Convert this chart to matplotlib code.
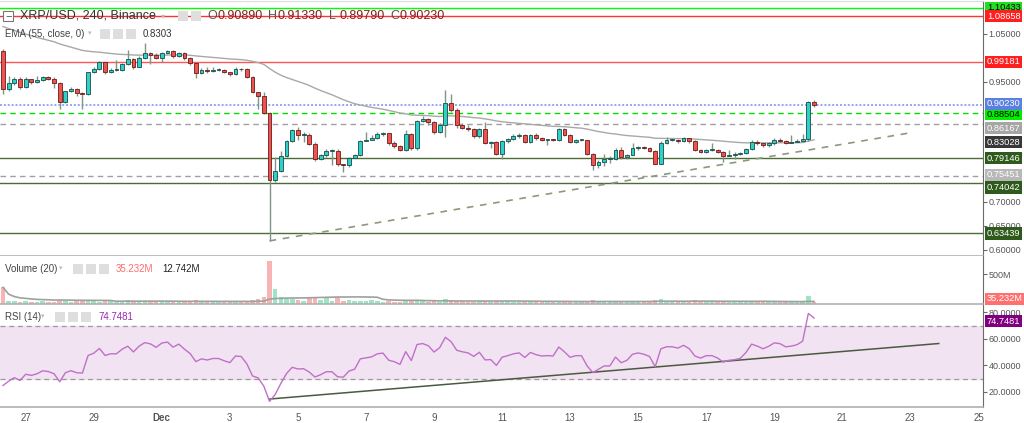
import numpy as np
import pandas as pd
import matplotlib
matplotlib.use("Agg")
import matplotlib.pyplot as plt
from matplotlib.patches import Rectangle
from matplotlib.transforms import blended_transform_factory

plt.rcParams['font.family'] = ['Liberation Sans', 'DejaVu Sans']

# XRP/USD 4h candles, Nov 26 - Dec 20 (open of each candle = previous close)
first_open = 1.015
closes = [0.936, 0.947, 0.956, 0.939, 0.955, 0.949, 0.953, 0.960, 0.957, 0.948,
          0.909, 0.930, 0.935, 0.926, 0.925, 0.970, 0.977, 0.992, 0.970, 0.975,
          0.975, 0.988, 0.997, 0.982, 0.999, 1.010, 1.007, 0.999, 1.011, 1.014,
          1.003, 1.011, 1.000, 0.990, 0.969, 0.975, 0.972, 0.975, 0.975, 0.970,
          0.966, 0.977, 0.976, 0.961, 0.928, 0.921, 0.886, 0.746, 0.764, 0.795,
          0.827, 0.849, 0.839, 0.840, 0.821, 0.790, 0.797, 0.806, 0.806, 0.778,
          0.776, 0.792, 0.797, 0.827, 0.830, 0.833, 0.842, 0.844, 0.822, 0.817,
          0.808, 0.842, 0.812, 0.869, 0.873, 0.866, 0.845, 0.861, 0.906, 0.892,
          0.861, 0.855, 0.851, 0.838, 0.852, 0.823, 0.824, 0.800, 0.826, 0.831,
          0.837, 0.840, 0.825, 0.840, 0.833, 0.829, 0.830, 0.829, 0.852, 0.840,
          0.825, 0.829, 0.829, 0.800, 0.776, 0.783, 0.790, 0.790, 0.809, 0.793,
          0.798, 0.812, 0.815, 0.812, 0.807, 0.780, 0.823, 0.829, 0.829, 0.826,
          0.833, 0.826, 0.809, 0.804, 0.809, 0.809, 0.804, 0.795, 0.798, 0.799,
          0.801, 0.810, 0.825, 0.822, 0.818, 0.822, 0.828, 0.827, 0.823, 0.824,
          0.826, 0.831, 0.9089, 0.9023]
highs = [1.018, 0.962, 0.960, 0.960, 0.960, 0.957, 0.962, 0.962, 0.963, 0.960,
         0.950, 0.932, 0.940, 0.937, 0.928, 0.971, 0.980, 0.994, 0.992, 0.978,
         0.995, 0.990, 1.016, 1.000, 1.003, 1.030, 1.012, 1.010, 1.013, 1.017,
         1.016, 1.013, 1.013, 1.002, 0.991, 0.978, 0.980, 0.980, 0.978, 0.977,
         0.971, 0.980, 0.979, 0.978, 0.962, 0.929, 0.929, 0.888, 0.793, 0.806,
         0.830, 0.852, 0.857, 0.846, 0.844, 0.824, 0.800, 0.810, 0.810, 0.810,
         0.780, 0.794, 0.799, 0.829, 0.845, 0.840, 0.845, 0.846, 0.842, 0.826,
         0.818, 0.850, 0.844, 0.871, 0.878, 0.875, 0.868, 0.864, 0.934, 0.925,
         0.895, 0.865, 0.860, 0.853, 0.855, 0.866, 0.826, 0.826, 0.829, 0.834,
         0.842, 0.843, 0.842, 0.842, 0.843, 0.835, 0.832, 0.832, 0.854, 0.854,
         0.842, 0.832, 0.832, 0.830, 0.801, 0.787, 0.800, 0.796, 0.812, 0.815,
         0.800, 0.822, 0.817, 0.816, 0.814, 0.809, 0.826, 0.836, 0.832, 0.831,
         0.836, 0.834, 0.828, 0.811, 0.811, 0.822, 0.811, 0.806, 0.809, 0.803,
         0.805, 0.812, 0.830, 0.828, 0.823, 0.825, 0.833, 0.834, 0.829, 0.840,
         0.832, 0.842, 0.910, 0.9133]
lows = [0.925, 0.932, 0.944, 0.935, 0.937, 0.946, 0.947, 0.951, 0.954, 0.938,
        0.894, 0.907, 0.928, 0.921, 0.893, 0.923, 0.968, 0.975, 0.966, 0.968,
        0.973, 0.973, 0.986, 0.976, 0.980, 0.997, 0.987, 0.997, 0.992, 1.009,
        1.000, 1.001, 0.996, 0.986, 0.958, 0.967, 0.969, 0.970, 0.972, 0.968,
        0.963, 0.964, 0.973, 0.958, 0.926, 0.894, 0.884, 0.619, 0.742, 0.762,
        0.793, 0.825, 0.830, 0.825, 0.818, 0.786, 0.787, 0.794, 0.776, 0.775,
        0.763, 0.772, 0.792, 0.795, 0.826, 0.830, 0.832, 0.837, 0.818, 0.812,
        0.806, 0.806, 0.808, 0.808, 0.867, 0.860, 0.842, 0.843, 0.835, 0.888,
        0.855, 0.852, 0.848, 0.834, 0.834, 0.820, 0.812, 0.797, 0.790, 0.823,
        0.830, 0.834, 0.822, 0.823, 0.830, 0.826, 0.818, 0.826, 0.827, 0.837,
        0.822, 0.823, 0.826, 0.797, 0.767, 0.771, 0.775, 0.782, 0.788, 0.790,
        0.790, 0.797, 0.808, 0.810, 0.805, 0.778, 0.779, 0.821, 0.826, 0.823,
        0.824, 0.823, 0.806, 0.801, 0.801, 0.806, 0.801, 0.783, 0.795, 0.790,
        0.797, 0.800, 0.808, 0.819, 0.814, 0.815, 0.819, 0.824, 0.820, 0.822,
        0.824, 0.824, 0.826, 0.8979]
# volume in millions
volumes = [280, 50, 45, 40, 55, 40, 35, 45, 40, 35,
           75, 50, 40, 45, 55, 70, 45, 40, 45, 55,
           40, 40, 60, 45, 50, 55, 40, 45, 40, 35,
           45, 40, 40, 45, 60, 40, 35, 35, 30, 35,
           40, 45, 40, 55, 70, 90, 110, 720, 245, 110,
           95, 80, 60, 55, 110, 95, 60, 100, 55, 110,
           55, 60, 55, 50, 45, 60, 45, 40, 45, 40,
           35, 60, 55, 70, 45, 40, 45, 40, 90, 60,
           55, 45, 40, 40, 45, 55, 40, 45, 55, 50,
           40, 35, 40, 35, 35, 30, 30, 35, 55, 40,
           40, 35, 40, 55, 60, 50, 45, 40, 50, 45,
           40, 45, 40, 35, 40, 60, 90, 50, 40, 35,
           40, 40, 70, 45, 40, 35, 35, 45, 55, 40,
           35, 35, 40, 50, 40, 35, 35, 40, 35, 35,
           35, 30, 127, 40]

# right-axis price markers
level_vals = [1.10433, 1.08658, 0.99181, 0.88504, 0.86167, 0.79146, 0.75451, 0.74042, 0.63439]
last_price = 0.90230
ema_last = 0.83028
vol_last = 35.232
rsi_last = 74.7481
ema_seed = 1.07
rsi_seed_gain, rsi_seed_loss = 0.005, 0.009
# axis ticks left visible (the others sit under the markers)
price_ticks = [0.60, 0.65, 0.70, 0.95, 1.05]
rsi_ticks = [20, 40, 60, 80]
# trendlines (candle index, value)
price_trend = [(47, 0.619), (160, 0.844)]
rsi_trend = [(47, 14.7), (165, 56.5)]
day_ticks = ["27", "29", "Dec", "3", "5", "7", "9", "11", "13", "15", "17", "19", "21", "23", "25"]

opens = [first_open] + closes[:-1]
o = np.array(opens); c = np.array(closes); h = np.array(highs); l = np.array(lows)
idx = np.arange(len(c))
up = c >= o

# EMA 55
alpha = 2 / 56
ema = []
prev = ema_seed
for v in c:
    prev = prev + alpha * (v - prev)
    ema.append(prev)

# RSI 14 (Wilder)
g, ls = rsi_seed_gain, rsi_seed_loss
rsi = []
for d in c - o:
    g = (g * 13 + max(d, 0)) / 14
    ls = (ls * 13 + max(-d, 0)) / 14
    rsi.append(100 - 100 / (1 + g / ls))

vol = np.array(volumes) * 1e6
vol_ma = pd.Series(vol).rolling(20, min_periods=1).mean()

W, H = 1024, 423
fig = plt.figure(figsize=(W / 100, H / 100), dpi=100)
fig.patch.set_facecolor('white')

def rect(top, bottom):
    return [0, 1 - bottom / H, 983 / W, (bottom - top) / H]

ax = fig.add_axes(rect(1, 256))
axv = fig.add_axes(rect(256, 304), sharex=ax)
axr = fig.add_axes(rect(305, 407), sharex=ax)

for a in (ax, axv, axr):
    a.set_facecolor('white')
    a.yaxis.tick_right()
    for s in ('left', 'top'):
        a.spines[s].set_visible(False)
    a.spines['bottom'].set_color('#b0b0b0')
    a.spines['bottom'].set_linewidth(1.2)
    a.spines['right'].set_color('#6a6a6a')
    a.tick_params(axis='y', colors='#6a6a6a', labelsize=6.5, length=3, pad=1, labelcolor='#555555')
    a.tick_params(axis='x', length=0)
ax.spines['top'].set_visible(True)
ax.spines['top'].set_color('#dddddd')
ax.set_xlim(-0.53, 172.8)

up_col, dn_col = '#2ed1c9', '#ef5350'
up_edge, dn_edge = '#1d4a43', '#6a1b1b'
wick = '#7d9688'

# price panel
ax.vlines(idx, l, h, color=wick, lw=1, zorder=3)
body_lo = np.minimum(o, c)
body_h = np.maximum(np.abs(c - o), 0.0015)
ax.bar(idx, body_h, bottom=body_lo, width=0.68,
       color=np.where(up, up_col, dn_col), edgecolor=np.where(up, up_edge, dn_edge),
       linewidth=0.6, zorder=4)
ax.plot(idx, ema, color='#a8a8a8', lw=1, zorder=2)

# value: line colour, line style, label bg, label text, label shift (px)
lvl_style = {
    1.10433: ('#00ff00', '-', '#1fe01f', 'black', 0),
    1.08658: ('#ff3333', '-', '#ff1f1f', 'white', 0),
    0.99181: ('#ff5555', '-', '#ff1f1f', 'white', 0),
    0.88504: ('#00dd00', (0, (4, 3)), '#00ee00', 'black', -1),
    0.86167: ('#a0a0a0', (0, (4, 3)), '#a6a6a6', 'white', -4),
    0.79146: ('#4d6b38', '-', '#2e5a1c', 'white', 0),
    0.75451: ('#a0a0a0', (0, (4, 3)), '#b8b8b8', 'white', 1),
    0.74042: ('#4d6b38', '-', '#2e5a1c', 'white', -5),
    0.63439: ('#4d6b38', '-', '#2e5a1c', 'white', 0),
}
for v in level_vals:
    lc, ls_ = lvl_style[v][:2]
    ax.axhline(v, color=lc, ls=ls_, lw=1, zorder=1)
ax.axhline(last_price, color='#8fa8f0', ls=(0, (1, 1)), lw=1.4, zorder=1)
(x0, y0), (x1, y1) = price_trend
ax.plot([x0, x1], [y0, y1], color='#8a9a7a', ls=(0, (4, 4)), lw=1.2, zorder=2)

ax.set_ylim(0.5875, 1.1184)
ax.set_yticks(price_ticks)
ax.set_yticklabels([f"{t:.5f}" for t in price_ticks])
plt.setp(ax.get_xticklabels(), visible=False)

def marker(a, y, txt, bg, fg, dy=0):
    tr = blended_transform_factory(a.transAxes, a.transData)
    a.annotate(txt, xy=(1, y), xycoords=tr, xytext=(4, dy), textcoords='offset pixels',
               ha='left', va='center', fontsize=6.7, color=fg, annotation_clip=False,
               zorder=10, bbox=dict(boxstyle='square,pad=0.17', fc=bg, ec='none'))

for v in level_vals:
    bg, fg, dy = lvl_style[v][2:]
    marker(ax, v, f"{v:.5f}", bg, fg, dy)
marker(ax, last_price, f"{last_price:.5f}", '#5b80e0', 'white', 1)
marker(ax, ema_last, f"{ema_last:.5f}", '#383838', 'white', -3)

# volume panel
axv.bar(idx, vol, width=0.8, color=np.where(up, '#9be6c6', '#f8b4b4'), zorder=2)
axv.plot(idx, vol_ma, color='#a0a0a0', lw=1.2, zorder=3)
axv.set_ylim(0, 808e6)
axv.set_yticks([500e6])
axv.set_yticklabels(['500M'])
plt.setp(axv.get_xticklabels(), visible=False)
marker(axv, vol_last * 1e6, f"{vol_last:.3f}M", '#ff7070', 'white', 3)

# RSI panel
axr.axhspan(30, 70, color='#f1e3f1', zorder=0)
axr.axhline(70, color='#a09aa0', ls=(0, (4, 3)), lw=0.9)
axr.axhline(30, color='#a09aa0', ls=(0, (4, 3)), lw=0.9)
axr.plot(idx, rsi, color='#c070c8', lw=1, zorder=3)
(x0, y0), (x1, y1) = rsi_trend
axr.plot([x0, x1], [y0, y1], color='#4a5a40', lw=1.1, zorder=2)
axr.set_ylim(8.7, 85.5)
axr.set_yticks(rsi_ticks)
axr.set_yticklabels([f"{t:.4f}" for t in rsi_ticks])
marker(axr, rsi_last, f"{rsi_last:.4f}", '#800080', 'white', -2)

axr.set_xticks([4 + 12 * k for k in range(len(day_ticks))])
axr.set_xticklabels(day_ticks, fontsize=7, color='#555555')
for t in axr.get_xticklabels():
    if t.get_text() == 'Dec':
        t.set_fontweight('bold')
axr.tick_params(axis='x', pad=4)

# header texts
def ftxt(x, y, s, **kw):
    fig.text(x / W, 1 - y / H, s, va='center', ha='left', **kw)

def icons(x, y, n, size=10):
    for k in range(n):
        fig.patches.append(Rectangle(((x + k * (size + 3)) / W, 1 - (y + size / 2) / H),
                                     size / W, size / H, transform=fig.transFigure,
                                     fc='#dedede', ec='none'))

fig.patches.append(Rectangle((3 / W, 1 - 21 / H), 10 / W, 10 / H, transform=fig.transFigure,
                             fc='white', ec='#777777', lw=0.8))
ftxt(5.2, 16, '−', fontsize=8, color='#555555')
ftxt(20, 16, 'XRP/USD, 240, Binance', fontsize=9, color='#333333')
ftxt(161, 17, '▾', fontsize=6, color='#bbbbbb')
icons(178, 16, 2)
ohlc = [('O', '0.90890'), ('H', '0.91330'), ('L', '0.89790'), ('C', '0.90230')]
for k, (lab, val) in enumerate(ohlc):
    ftxt(207 + 61 * k, 16, lab, fontsize=9, color='#555555')
    ftxt(217 + 61 * k, 16, val, fontsize=9, color='#8b1a1a')

ftxt(5, 34, 'EMA (55, close, 0)', fontsize=7, color='#444444')
ftxt(88, 34, '▾', fontsize=5, color='#bbbbbb')
icons(100, 34, 3)
ftxt(143, 34, '0.8303', fontsize=7, color='#333333')

ftxt(5, 269, 'Volume (20)', fontsize=7, color='#444444')
ftxt(59, 269, '▾', fontsize=5, color='#bbbbbb')
icons(73, 269, 3)
ftxt(116, 269, '35.232M', fontsize=7, color='#ff6b6b')
ftxt(162, 269, '12.742M', fontsize=7, color='#222222')

ftxt(5, 317, 'RSI (14)', fontsize=7, color='#444444')
ftxt(41, 317, '▾', fontsize=5, color='#bbbbbb')
icons(55, 317, 3)
ftxt(98, 317, '74.7481', fontsize=7, color='#9c27b0')

fig.savefig('out.png', dpi=100, facecolor='white')
